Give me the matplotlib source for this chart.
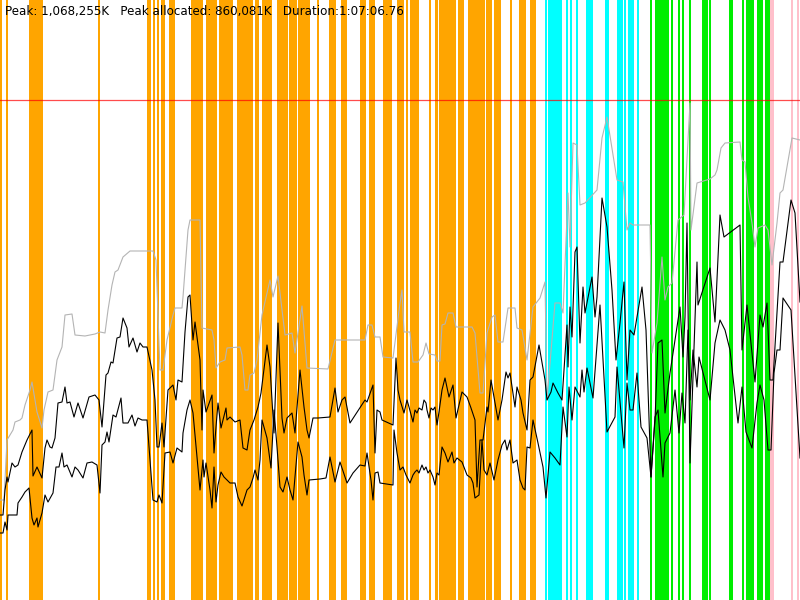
import numpy as np
import matplotlib
matplotlib.use("Agg")
import matplotlib.pyplot as plt

# --- Memory profile, values in % of peak, time in samples (5.03 s each) ---
PEAK_PCT = 100.0
N_SAMPLES = 800
title = "Peak: 1,068,255K   Peak allocated: 860,081K   Duration:1:07:06.76"

# heap size (gray)
heap_t = [0, 4, 7, 13, 15, 20, 22, 25, 30, 32, 37, 42, 44, 48, 53, 57, 62, 65, 72, 75,
          85, 95, 100, 105, 108, 112, 115, 118, 123, 130, 153, 156, 160, 163, 167, 173,
          175, 182, 183, 188, 190, 200, 202, 212, 214, 216, 220, 225, 227, 240, 242, 245,
          248, 250, 254, 257, 262, 270, 273, 278, 285, 292, 295, 302, 307, 328, 335, 365,
          368, 372, 375, 380, 383, 393, 400, 402, 404, 410, 413, 418, 423, 426, 429, 435,
          437, 440, 442, 445, 448, 453, 456, 472, 475, 480, 483, 487, 492, 495, 498, 503,
          508, 515, 517, 522, 527, 533, 540, 545, 547, 552, 555, 560, 563, 568, 570, 573,
          577, 580, 585, 597, 602, 607, 617, 623, 627, 630, 633, 650, 652, 657, 662, 665,
          668, 672, 678, 684, 690, 691, 697, 710, 715, 717, 721, 725, 740, 742, 745, 748,
          752, 755, 758, 765, 768, 772, 777, 780, 783, 792, 800]
heap_v = [20, 20, 32, 34, 35.6, 36, 36.4, 39, 42, 43.6, 37.6, 34.4, 38, 41.6, 42, 48, 50.6,
          57, 57.2, 53, 52.8, 53.2, 53.6, 53.4, 58, 63, 65.6, 66, 68.6, 69.8, 69.8, 68, 46,
          46, 52, 57, 58.4, 58.4, 60.6, 74, 76, 76, 54.4, 54, 52, 46.4, 47.6, 48, 50.4,
          50.6, 49, 42, 42, 45, 45.4, 48, 57, 64, 60.6, 64.8, 53, 53.4, 49.4, 58.8, 46.4,
          46.2, 52, 52, 55, 55, 52.6, 52.6, 48.6, 48.4, 59.4, 62, 53.6, 53.6, 47.6, 47.6,
          49, 51.4, 49.2, 49, 47.8, 47.8, 55, 55.2, 57.4, 57.4, 54.6, 54.6, 53.4, 41.4,
          41.4, 53.4, 56.6, 57, 51.6, 51.6, 58.4, 58.4, 54.4, 54, 48, 58.6, 60.4, 63.6, 40,
          52, 59.4, 59.4, 57.4, 81.4, 70.6, 91.4, 91, 79, 79.4, 82, 92.4, 96.6, 84, 83.6,
          74, 75.4, 75, 75, 49.4, 55.4, 68.6, 60, 62.6, 63.4, 76, 77, 99.4, 74, 83.4, 84.2,
          85, 86, 90.4, 91.4, 91.6, 88, 87.6, 80.6, 75.4, 70.6, 74.4, 75, 74, 67, 75.4,
          81.4, 82, 92.4, 92]

# allocated (upper black)
alloc_t = [0, 3, 5, 7, 8, 12, 15, 18, 22, 27, 32, 33, 37, 42, 45, 47, 50, 52, 55, 58, 62,
           65, 67, 70, 74, 78, 83, 89, 95, 99, 102, 106, 108, 111, 113, 117, 120, 123, 127,
           129, 133, 137, 140, 143, 147, 152, 155, 157, 159, 162, 164, 168, 173, 176, 178,
           182, 185, 188, 190, 193, 195, 200, 202, 203, 206, 212, 214, 216, 218, 221, 226,
           227, 230, 235, 240, 243, 247, 250, 254, 258, 261, 267, 270, 274, 278, 282, 284,
           287, 292, 295, 300, 304, 307, 309, 313, 318, 330, 335, 338, 342, 345, 350, 365,
           367, 373, 375, 377, 380, 382, 393, 396, 398, 400, 404, 407, 409, 413, 415, 417,
           419, 422, 424, 426, 427, 429, 431, 433, 435, 437, 439, 442, 445, 449, 453, 456,
           462, 467, 471, 475, 477, 480, 483, 487, 488, 491, 494, 498, 502, 506, 508, 510,
           515, 517, 521, 523, 527, 530, 533, 539, 545, 547, 551, 553, 558, 562, 567, 568,
           570, 572, 575, 577, 580, 583, 585, 592, 595, 597, 602, 607, 612, 616, 620, 624,
           627, 630, 634, 642, 646, 651, 655, 658, 662, 665, 670, 680, 683, 685, 687, 690,
           697, 698, 710, 715, 720, 724, 740, 742, 747, 755, 760, 763, 767, 770, 773, 780,
           783, 791, 795, 800]
alloc_v = [17, 17, 22, 24.6, 23.6, 27.4, 26.6, 27, 29.6, 32, 34, 24.8, 26.6, 24.4, 30.4,
           32, 30.6, 30.4, 32.4, 39.4, 39.6, 42.6, 39.4, 39.6, 36.6, 39.4, 36.4, 40.6, 41,
           40, 34.6, 45, 45.4, 47.6, 47.4, 52.4, 52.6, 56.4, 54.4, 50.6, 52.4, 49.6, 51.4,
           50.6, 50.6, 46, 40, 30.6, 30.6, 35.4, 30.6, 42, 43, 40, 44, 43.6, 53.6, 60.6,
           61, 52, 55.6, 48, 34, 42, 37.6, 41, 29.4, 34.6, 39.4, 34.4, 38.4, 36, 36.6, 35.6,
           36, 30.4, 30, 34, 36, 38.6, 41.4, 51, 46.6, 33.4, 55.4, 36.4, 33.4, 36.4, 37.4,
           33.4, 46, 38.6, 34, 32.4, 36.4, 36.4, 36.6, 42.4, 37.6, 40, 40.6, 35.4, 40, 39.6,
           43, 29.4, 38, 37.6, 36, 35, 48.4, 42, 40, 37.4, 40, 38.6, 35.6, 38, 37.4, 38.4,
           38, 40, 39.4, 38, 36.4, 38.4, 38, 38.6, 35, 37.6, 42, 44.4, 40.6, 43, 36.4, 41.6,
           40.6, 38.4, 36, 22.6, 32, 32, 38.6, 37.6, 44, 40.6, 36, 40, 45.6, 44.4, 45.4,
           38.6, 42.6, 40, 37.4, 34, 44, 44.6, 51, 44, 40, 41.6, 43.4, 41.4, 40, 55, 46.6,
           58.6, 52.6, 69.6, 70.6, 51.4, 62.6, 57.4, 64.6, 56.6, 60.6, 80.4, 74.6, 62, 48,
           55.4, 63.6, 44, 54, 53, 62.6, 54, 24.6, 36, 51.4, 52, 37.4, 45.4, 58.6, 48.6,
           56.6, 75.4, 27.4, 67.6, 59, 66.4, 55.6, 77, 72.6, 75, 50, 59, 43.6, 57, 54.6,
           59.4, 44, 44, 67.6, 67.6, 80, 77.4, 59.6]

# in use (lower black)
used_t = [0, 3, 5, 7, 8, 12, 17, 18, 22, 25,
          29, 32, 34, 37, 38, 42, 45, 48, 53, 56,
          59, 62, 64, 67, 72, 75, 78, 83, 87, 92,
          97, 100, 102, 105, 107, 109, 113, 116, 121, 123,
          128, 132, 135, 138, 142, 147, 153, 157, 159, 162,
          165, 170, 173, 177, 182, 183, 187, 190, 193, 200,
          203, 204, 206, 210, 212, 214, 216, 218, 221, 224,
          227, 230, 235, 238, 242, 247, 250, 253, 255, 258,
          260, 262, 267, 271, 274, 277, 280, 283, 287, 290,
          293, 295, 298, 302, 304, 307, 309, 320, 326, 330,
          335, 340, 347, 353, 360, 365, 367, 371, 373, 375,
          378, 380, 393, 394, 397, 400, 403, 406, 410, 413,
          415, 417, 419, 422, 424, 426, 428, 430, 433, 435,
          437, 439, 442, 445, 448, 452, 454, 457, 462, 467,
          471, 473, 475, 479, 482, 484, 487, 490, 494, 498,
          502, 505, 507, 510, 513, 517, 520, 523, 525, 527,
          530, 533, 538, 543, 546, 550, 555, 560, 563, 567,
          569, 572, 575, 580, 582, 584, 587, 593, 600, 607,
          615, 617, 624, 627, 630, 633, 637, 641, 647, 651,
          655, 658, 663, 665, 670, 675, 679, 682, 685, 688,
          690, 693, 697, 699, 710, 715, 720, 725, 730, 738,
          742, 746, 752, 757, 760, 764, 768, 771, 774, 777,
          780, 783, 791, 800]
used_v = [13.4, 13.4, 15.6, 14, 17, 17, 17, 19.4, 20.6, 21.6,
          22.4, 16.4, 15, 16.4, 14.6, 17.4, 21, 19.6, 21.4, 26.6,
          26.6, 29.4, 26.6, 27, 24.6, 26.6, 26, 24.4, 27.4, 27.6,
          27, 21.4, 31, 31.6, 33.6, 31.6, 37, 36.6, 40.4, 35.4,
          35.4, 37, 34.8, 36.4, 36, 36, 20, 19.6, 21, 19.4,
          29.4, 29.6, 27.4, 30.4, 29.6, 33.4, 38, 40, 37.4, 22,
          28, 24.6, 27.4, 22, 18.4, 26.6, 19.6, 23, 25.6, 24.6,
          24, 23.4, 23.4, 20.6, 18.8, 22, 22.6, 24.4, 26, 24,
          28, 36, 32.4, 26.4, 38, 30.6, 22.6, 21.6, 24.6, 22,
          20, 24.6, 31.6, 28.6, 25, 21, 24, 24.2, 24.4, 28.6,
          23.6, 27.6, 23.4, 25.4, 27, 26.8, 29.4, 24, 20, 25.4,
          25.6, 23.4, 23, 34, 29.4, 26, 26.6, 25, 23.4, 25,
          25.6, 26, 25.4, 27, 26, 26.6, 25.4, 26, 24.6, 23,
          25.4, 25, 30.6, 29.4, 27.6, 29.6, 27.4, 28.4, 27.6, 25,
          24.4, 23.4, 20.4, 21, 32, 26, 25, 27.4, 24, 28,
          31, 32, 30, 32, 27.4, 28, 24, 22.4, 22, 30.6,
          30.4, 36, 31.4, 26.6, 20.4, 29.6, 28.4, 27, 38.6, 32.6,
          42.6, 36, 42.6, 40.6, 46, 41.6, 46.4, 40.4, 59, 33.6,
          36.6, 46.6, 30.4, 43.4, 38, 38, 45.4, 34.6, 32.4, 24.6,
          36.6, 38, 24.6, 31.4, 33.4, 42, 33.4, 41.4, 35.4, 54,
          40, 50, 42.6, 48.6, 40, 51.4, 56, 54, 50, 35.4,
          42.6, 33.6, 30.4, 39.4, 43, 40, 30, 30, 45.4, 50,
          50, 60.4, 58, 28.4]

# collection events (sample index) by kind
gc_orange = [1, 6.5, 30, 32, 34, 36, 38, 40, 41.5, 98.5, 147.5, 150, 154, 157.5, 161.5,
             163.5, 169.5, 171.5, 173.5, 191.5, 193.5, 195.5, 197.5, 199.5, 201.5, 206.5,
             208.5, 210.5, 212.5, 214.5, 216, 219.5, 221.5, 223.5, 225.5, 227.5, 229.5,
             231.5, 237.5, 239.5, 241.5, 243.5, 245.5, 247.5, 249.5, 251.5, 255.5, 257.5,
             262.5, 264.5, 266.5, 268.5, 270.5, 277.5, 279.5, 281.5, 283.5, 285.5, 287,
             289.5, 291.5, 293.5, 295.5, 298.5, 300.5, 302.5, 304.5, 306.5, 308.5, 318,
             329.5, 331.5, 333.5, 335, 341.5, 343.5, 345.5, 360.5, 362.5, 364.5, 369.5,
             371.5, 373.5, 383.5, 385.5, 387.5, 389.5, 391, 397.5, 399.5, 401.5, 403, 407,
             410.5, 412.5, 414.5, 416.5, 418, 430, 435.5, 437, 439.5, 441.5, 443.5, 445.5,
             447.5, 449.5, 451.5, 453.5, 455, 458.5, 460.5, 462.5, 468.5, 470.5, 472.5,
             474.5, 476.5, 478.5, 480.5, 482.5, 484, 486.5, 488.5, 490.5, 494.5, 496.5,
             498.5, 500, 511, 519.5, 521.5, 523.5, 525, 530.5, 532.5, 534.5]
gc_cyan = [545.5, 548.5, 550.5, 552.5, 554.5, 556.5, 558.5, 561, 567, 571, 577, 586.5,
           588.5, 590.5, 592, 605.5, 607.5, 617.5, 619.5, 621.5, 625, 628.5, 630.5, 632.5,
           637.5]
gc_green = [650.5, 655.5, 657.5, 659.5, 661.5, 663.5, 665.5, 668, 672, 678.5, 683, 690,
            702.5, 704.5, 706.5, 710, 729.5, 731.5, 743, 746.5, 748.5, 750.5, 752.5, 757.5,
            759.5, 761.5, 765.5, 767.5, 769.5]
gc_pink = [771, 772.5, 791.5, 798]

# --- Figure ---
fig = plt.figure(figsize=(8, 6), dpi=100, facecolor="white")
ax = fig.add_axes([0, 0, 1, 1])
ax.set_xlim(0, N_SAMPLES)
ax.set_ylim(0, 120)
ax.axis("off")

for events, col in [(gc_orange, "#ffa500"), (gc_cyan, "#00ffff"),
                    (gc_green, "#00ee00"), (gc_pink, "#ffc0cb")]:
    ax.vlines(events, 0, 120, colors=col, linewidth=1.44,
              antialiased=False, zorder=1)

ax.plot(heap_t, heap_v, color="#b4b4b4", linewidth=0.8, zorder=2)
ax.plot(alloc_t, alloc_v, color="black", linewidth=0.8, zorder=3)
ax.plot(used_t, used_v, color="black", linewidth=0.8, zorder=3)
ax.axhline(PEAK_PCT, color="red", alpha=0.7, linewidth=0.9, zorder=4)

fig.text(0.006, 0.992, title, ha="left", va="top", fontsize=8.6,
         family="DejaVu Sans", color="black")

fig.savefig("out.png", dpi=100)
